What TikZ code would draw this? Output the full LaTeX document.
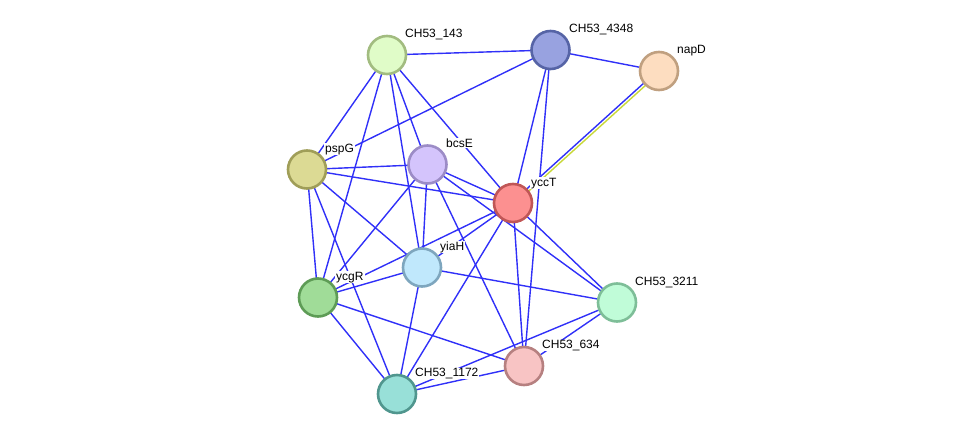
\documentclass[tikz,border=0pt]{standalone}
\usepackage{fontspec}
\setmainfont{Liberation Sans}
\usetikzlibrary{backgrounds}
\definecolor{linkblue}{HTML}{3030F8}
\definecolor{linkyellow}{HTML}{C8D838}
\definecolor{fA}{HTML}{E0FCC8}\definecolor{dA}{HTML}{A2BC80}
\definecolor{fB}{HTML}{98A2E0}\definecolor{dB}{HTML}{5664A6}
\definecolor{fC}{HTML}{FDDDC0}\definecolor{dC}{HTML}{C0A080}
\definecolor{fD}{HTML}{DCDA94}\definecolor{dD}{HTML}{A09E58}
\definecolor{fE}{HTML}{D4C4FC}\definecolor{dE}{HTML}{9C8CC6}
\definecolor{fF}{HTML}{FC9090}\definecolor{dF}{HTML}{C05656}
\definecolor{fG}{HTML}{C0E8FC}\definecolor{dG}{HTML}{7EA6BE}
\definecolor{fH}{HTML}{A0DC98}\definecolor{dH}{HTML}{5E9C56}
\definecolor{fI}{HTML}{C0FCD8}\definecolor{dI}{HTML}{7EBE98}
\definecolor{fJ}{HTML}{F8C4C4}\definecolor{dJ}{HTML}{B68080}
\definecolor{fK}{HTML}{98E0D8}\definecolor{dK}{HTML}{50968E}
\begin{document}
\begin{tikzpicture}[x=1pt,y=-1pt,
  prot/.style={circle, minimum size=38pt, inner sep=0pt, line width=2.6pt},
  lbl/.style={anchor=base west, inner xsep=1pt, inner ysep=0.6pt, fill=white,
    font=\fontsize{12}{14}\selectfont},
  edge/.style={draw=linkblue, line width=1.4pt}]
\useasboundingbox (0,0) rectangle (975,439);
\node[prot, fill=fA, draw=dA] (n143) at (387,55) {};
\node[prot, fill=fB, draw=dB] (n4348) at (550.5,50) {};
\node[prot, fill=fC, draw=dC] (napD) at (659,71) {};
\node[prot, fill=fD, draw=dD] (pspG) at (307,169.5) {};
\node[prot, fill=fE, draw=dE] (bcsE) at (427.5,164.5) {};
\node[prot, fill=fF, draw=dF] (yccT) at (513,203) {};
\node[prot, fill=fG, draw=dG] (yiaH) at (422,267.5) {};
\node[prot, fill=fH, draw=dH] (ycgR) at (318,297.5) {};
\node[prot, fill=fI, draw=dI] (n3211) at (617,302.5) {};
\node[prot, fill=fJ, draw=dJ] (n634) at (524,366) {};
\node[prot, fill=fK, draw=dK] (n1172) at (397,394) {};
\node[lbl] (l143) at (404,37.5) {CH53\_143};
\node[lbl] (l4348) at (568,32.5) {CH53\_4348};
\node[lbl] (lnapD) at (676,53.5) {napD};
\node[lbl] (lpspG) at (324,152) {pspG};
\node[lbl] (lbcsE) at (445,147) {bcsE};
\node[lbl] (lyccT) at (530,186) {yccT};
\node[lbl] (lyiaH) at (439,250) {yiaH};
\node[lbl] (lycgR) at (335,280) {ycgR};
\node[lbl] (l3211) at (634,285) {CH53\_3211};
\node[lbl] (l634) at (541,348.5) {CH53\_634};
\node[lbl] (l1172) at (414,376.5) {CH53\_1172};
\begin{scope}[on background layer]
\foreach \a/\b in {n143/n4348, n143/pspG, n143/bcsE, n143/yccT, n143/yiaH, n143/ycgR,
  n4348/napD, n4348/pspG, n4348/yccT, n4348/n634,
  pspG/bcsE, pspG/yccT, pspG/yiaH, pspG/ycgR, pspG/n1172,
  bcsE/yccT, bcsE/yiaH, bcsE/ycgR, bcsE/n3211, bcsE/n634,
  yccT/yiaH, yccT/ycgR, yccT/n3211, yccT/n634, yccT/n1172,
  yiaH/ycgR, yiaH/n3211, yiaH/n1172,
  ycgR/n634, ycgR/n1172,
  n3211/n634, n3211/n1172, n634/n1172}
  \draw[edge] (\a.center) -- (\b.center);
\draw[edge] ([shift={(-0.8,-0.9)}]napD.center) -- ([shift={(-0.8,-0.9)}]yccT.center);
\draw[draw=linkyellow, line width=1.4pt] ([shift={(1.1,1.2)}]napD.center) -- ([shift={(1.1,1.2)}]yccT.center);
\end{scope}
\end{tikzpicture}
\end{document}
